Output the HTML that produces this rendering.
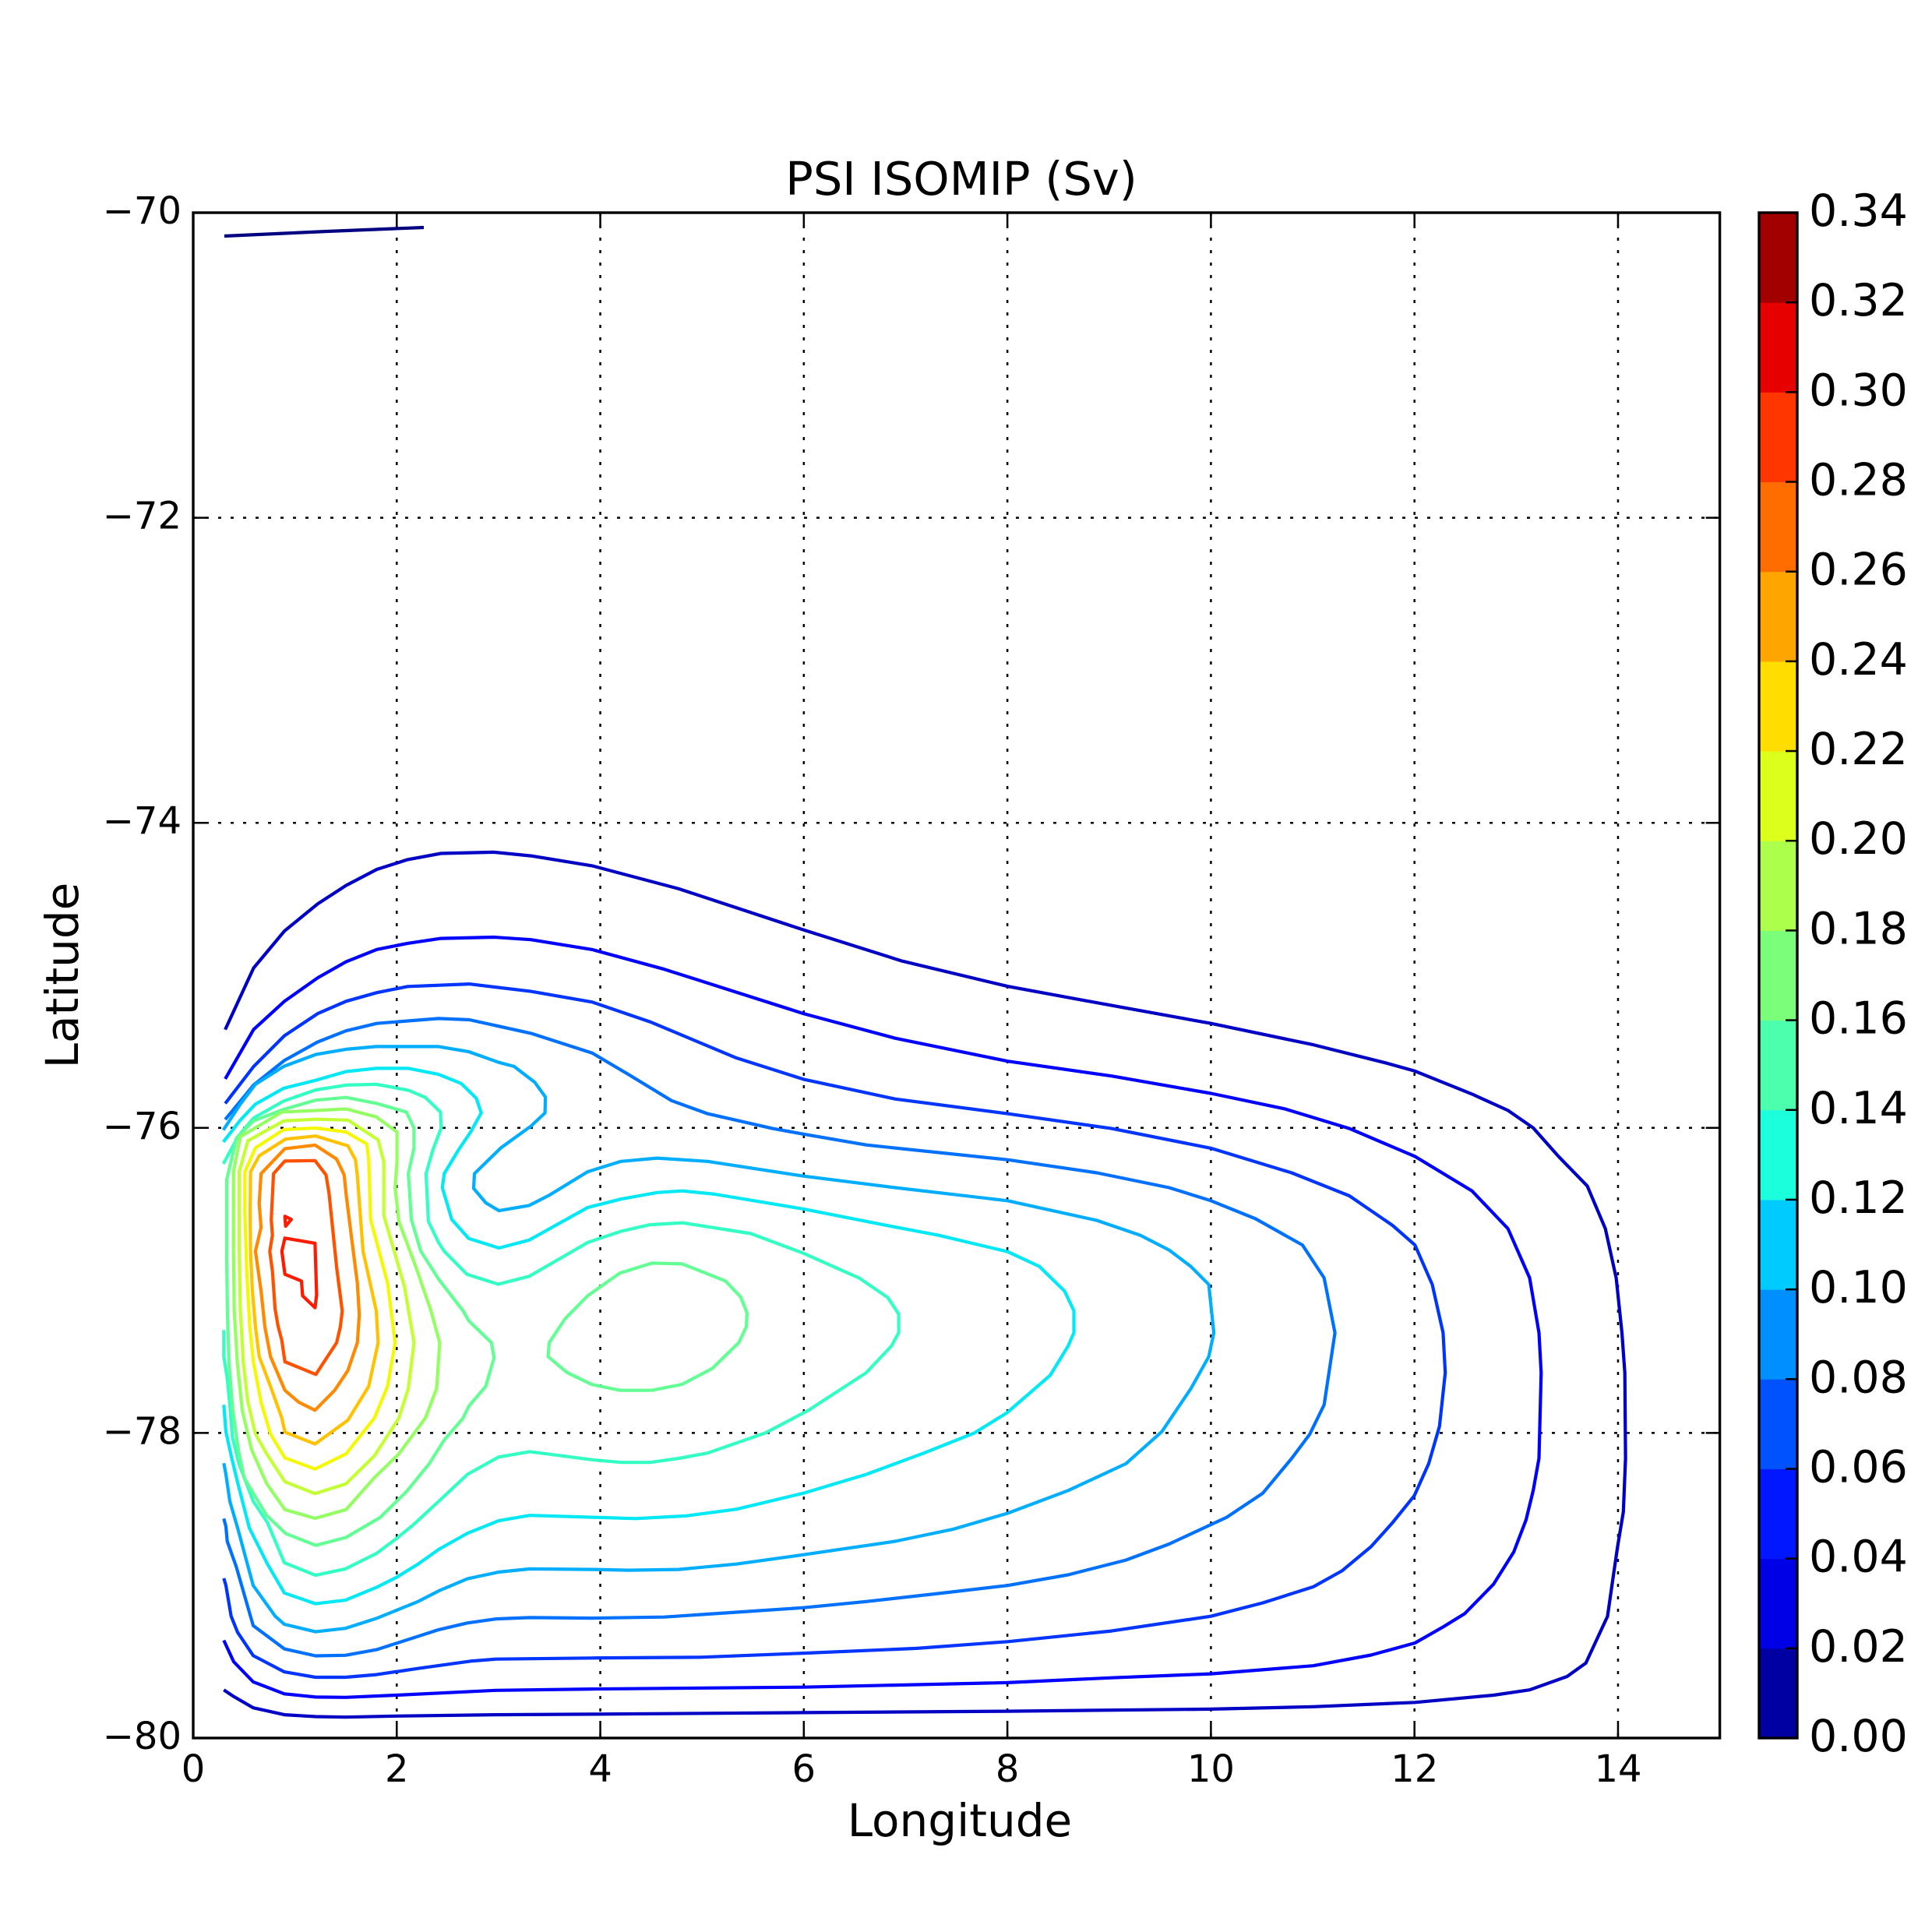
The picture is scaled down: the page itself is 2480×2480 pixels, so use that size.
<!DOCTYPE html>
<html><head><meta charset="utf-8">
<style>
html,body{margin:0;padding:0;background:#fff;}
svg{display:block;}
text{font-family:"DejaVu Sans","Liberation Sans",sans-serif;fill:#000;}
</style></head>
<body>
<svg id="s" width="2480" height="2480" viewBox="0 0 2480 2480" xmlns="http://www.w3.org/2000/svg">
<rect width="2480" height="2480" fill="#fff"/>
<g id="grid" stroke="#000" stroke-width="2.5" stroke-dasharray="4 12" fill="none"></g>
<g id="cont" fill="none" stroke-width="4.2" stroke-linejoin="round" stroke-linecap="butt"></g>
<g id="ticks" stroke="#000" stroke-width="2.5"></g>
<rect x="248" y="273" width="1959.6" height="1958" fill="none" stroke="#000" stroke-width="3.4"/>
<g id="cbar"></g>
<g font-size="48" text-anchor="middle">
<text x="248" y="2287">0</text>
<text x="509.3" y="2287">2</text>
<text x="770.6" y="2287">4</text>
<text x="1031.8" y="2287">6</text>
<text x="1293.1" y="2287">8</text>
<text x="1554.4" y="2287">10</text>
<text x="1815.7" y="2287">12</text>
<text x="2077" y="2287">14</text>
</g>
<g font-size="48" text-anchor="end">
<text x="233" y="287">−70</text>
<text x="233" y="678.6">−72</text>
<text x="233" y="1070.2">−74</text>
<text x="233" y="1461.8">−76</text>
<text x="233" y="1853.4">−78</text>
<text x="233" y="2245">−80</text>
</g>
<g font-size="57" text-anchor="start" id="cblab"></g>
<text x="1234" y="250" font-size="59" text-anchor="middle">PSI ISOMIP (Sv)</text>
<text x="1232" y="2357" font-size="58" text-anchor="middle">Longitude</text>
<text x="100" y="1252" font-size="58" text-anchor="middle" transform="rotate(-90 100 1252)">Latitude</text>
</svg>
<script>
(function(){
var NS="http://www.w3.org/2000/svg";
function el(tag,attrs,parent){var e=document.createElementNS(NS,tag);for(var k in attrs)e.setAttribute(k,attrs[k]);parent.appendChild(e);return e;}
function X(v){return 248+130.64*v;}
function Y(v){return 273+(-70-v)*195.8;}
var g=document.getElementById('grid');
for(var v=2;v<=14;v+=2) el('line',{x1:X(v),y1:273,x2:X(v),y2:2231},g);
for(var v=-72;v>=-78;v-=2) el('line',{x1:248,y1:Y(v),x2:2207.6,y2:Y(v)},g);
var t=document.getElementById('ticks');
for(var v=0;v<=14;v+=2){el('line',{x1:X(v),y1:2231,x2:X(v),y2:2213},t);el('line',{x1:X(v),y1:273,x2:X(v),y2:291},t);}
for(var v=-70;v>=-80;v-=2){el('line',{x1:248,y1:Y(v),x2:266,y2:Y(v)},t);el('line',{x1:2207.6,y1:Y(v),x2:2189.6,y2:Y(v)},t);}
function interp(pts,x){for(var i=1;i<pts.length;i++){if(x<=pts[i][0]){var a=pts[i-1],b=pts[i];return a[1]+(b[1]-a[1])*(x-a[0])/(b[0]-a[0]);}}return pts[pts.length-1][1];}
function jet(x){var r=interp([[0,0],[0.35,0],[0.66,1],[0.89,1],[1,0.5]],x),gg=interp([[0,0],[0.125,0],[0.375,1],[0.64,1],[0.91,0],[1,0]],x),b=interp([[0,0.5],[0.11,1],[0.34,1],[0.65,0],[1,0]],x);
function h(c){c=Math.round(Math.max(0,Math.min(1,c))*255);return (c<16?'0':'')+c.toString(16);}return '#'+h(r)+h(gg)+h(b);}
var cb=document.getElementById('cbar'),cl=document.getElementById('cblab');
var top=273,bot=2231,bh=(bot-top)/17;
for(var k=0;k<17;k++){el('rect',{x:2258,y:bot-(k+1)*bh,width:49,height:bh+0.5,fill:jet((k+0.5)/17)},cb);}
for(var k=1;k<17;k++){var yy=bot-k*bh;el('line',{x1:2292,y1:yy,x2:2307,y2:yy,stroke:'#000','stroke-width':2.5},cb);}
el('rect',{x:2258,y:273,width:49,height:1958,fill:'none',stroke:'#000','stroke-width':3.4},cb);
for(var k=0;k<=17;k++){var tx=el('text',{x:2322,y:bot-k*bh+17},cl);tx.textContent=(k*0.02).toFixed(2);}
function A(x,y){return [260+0.4847*x,1300+0.5102*y];}
function B(x,y){return [270+x/3,1839.4+(y-405)*0.3435];}
function C(x,y){return [770.4+(x-11)*0.9256,1839.4+(y-405)*0.3435];}
function E(x,y){return [770.4+(x-11)*0.9256,1056.2+(y-14)*0.4215];}
function D(x,y){return [1.582*x+1.2,1.5816*y+1];}
var F={A:A,B:B,C:C,E:E,D:D};
function seq(f,arr){var o=[];for(var i=0;i<arr.length;i+=2)o.push(F[f](arr[i],arr[i+1]));return o;}
var cont=document.getElementById('cont');
function draw(level,segs,close){var pts=[];segs.forEach(function(s){pts=pts.concat(s);});
var d='M'+pts.map(function(p){return p[0].toFixed(1)+' '+p[1].toFixed(1);}).join(' L');if(close)d+=' Z';
el('path',{d:d,stroke:jet(level/0.34)},cont);}
draw(0,[[[288,303],[420,297],[544,292]]]);
draw(0.02,[seq('D',[182,835,205,785,230,755,257,733,280,718,305,705,330,697,357,692,400,691,430,694]),
seq('E',[0,145,120,215,293,340,430,435,576,512,720,570,858,625,1000,690,1100,745,1141,770,1220,840,1270,890,1305,943,1340,1030,1380,1120,1405,1250,1420,1400,1428,1567]),
seq('C',[1432,180,1433,500,1430,700,1422,830,1415,960,1408,1090,1390,1195,1378,1265,1352,1315,1300,1365,1250,1385,1141,1412,1000,1428,858,1437,576,1445,293,1450,0,1456]),
seq('B',[1100,1458,716,1463,520,1467,405,1465,285,1458,165,1432,90,1390,52,1365])]);
draw(0.04,[seq('D',[182,875,205,835,230,812,257,793,280,780,305,770,330,765,357,761,400,760,430,762]),
seq('E',[0,400,100,460,293,595,420,670,576,740,720,785,858,838,960,885,1050,945,1141,1030,1220,1135,1270,1250,1300,1400,1313,1567]),
seq('C',[1316,180,1313,500,1305,620,1295,730,1278,850,1250,970,1210,1080,1180,1130,1141,1190,1080,1235,1000,1275,858,1305,720,1320,576,1338,293,1355,0,1362]),
seq('B',[1100,1367,716,1385,520,1393,405,1392,285,1380,165,1335,90,1260,52,1180])]);
draw(0.06,[seq('D',[182,895,205,865,230,840,257,822,280,812,305,805,330,800,380,798,430,804]),
seq('E',[0,560,80,620,200,730,293,795,420,855,576,900,720,945,858,1005,970,1080,1050,1150,1110,1240,1141,1300,1165,1420,1180,1567]),
seq('C',[1183,180,1175,380,1160,520,1140,640,1110,740,1080,830,1040,920,1000,980,930,1040,858,1090,720,1145,576,1185,450,1210,293,1228,150,1243,0,1246]),
seq('B',[1100,1250,1000,1258,800,1285,640,1308,520,1318,405,1318,285,1298,165,1237,105,1150,80,1090,60,975,52,948])]);
draw(0.08,[seq('D',[182,908,205,880,230,860,257,845,280,836,305,830,355,826,380,827,430,838]),
seq('E',[0,715,50,780,110,860,160,900,250,945,293,962,380,995,576,1040,700,1080,800,1125,858,1165,920,1220,985,1300,1015,1400,1030,1567]),
seq('C',[1025,120,1015,300,995,410,970,500,930,630,880,720,800,820,740,880,660,935,576,975,480,1005,380,1035,293,1058,200,1075,100,1093,0,1097]),
seq('B',[1230,1095,1100,1100,990,1115,880,1140,640,1215,520,1236,405,1238,285,1212,165,1125,100,905,65,810,60,755,52,725])]);
draw(0.10,[seq('A',[55,295,100,230,140,180,215,135,300,105,380,92,460,85,625,85,705,98,785,125,825,135,880,175,908,212,907,252,870,285,790,340,720,405,718,442,750,478,785,498,865,485,920,458,1020,400]),
seq('E',[40,1045,90,1035,160,1045,293,1090,420,1125,576,1165,700,1225,760,1270,800,1315,830,1365,855,1420,862,1567]),
seq('C',[855,120,830,240,790,400,740,520,660,620,576,705,500,765,420,810,293,860,200,895,120,915,50,918,0,915]),
seq('B',[1230,913,1110,925,990,950,880,995,800,1035,640,1098,520,1135,405,1148,285,1120,250,1090,165,975,105,760,75,660,60,560,52,518])]);
draw(0.12,[seq('A',[55,325,100,270,140,230,215,190,300,170,380,148,460,140,545,140,625,155,685,178,725,215,738,252,710,300,678,345,640,405,635,440,660,520,705,568,785,592,865,572,1020,490]),
seq('E',[40,1160,90,1140,125,1135,170,1145,293,1190,420,1245,480,1270,576,1320,620,1365,655,1440,668,1500,668,1567]),
seq('C',[660,80,635,190,575,330,530,405,460,480,380,560,293,630,200,690,130,715,60,725,0,720]),
seq('B',[1230,713,1110,733,990,780,880,840,800,895,716,945,640,982,520,1030,405,1043,285,1003,220,895,150,760,105,590,80,490,60,400,52,300])]);
draw(0.14,[seq('A',[55,380,95,310,135,265,215,222,300,194,380,182,460,180,545,195,590,213,630,250,632,290,610,345,592,405,598,525,625,578,640,600,700,658,783,683,865,663,1020,578]),
seq('E',[40,1258,80,1238,125,1232,220,1265,293,1325,370,1400,410,1460,425,1510,425,1567]),
seq('C',[415,80,380,180,300,320,240,405,160,480,120,500,80,515,40,515,0,505]),
seq('B',[1230,475,1110,495,990,560,880,660,785,745,716,800,640,855,520,913,405,937,285,890,220,740,165,660,110,520,85,420,75,300,65,200,52,120,52,20])]);
draw(0.16,[seq('A',[64,420,90,315,135,272,215,243,300,220,380,213,460,228,540,250,560,290,560,340,545,405,548,445,553,520,578,600,625,670,690,750,705,775,765,830,772,868,750,940,705,990,690,1020,640,1075,600,1135,540,1205,470,1270,380,1320,300,1340,220,1310,170,1265,135,1210,110,1170,95,1100,80,1000,70,880,66,760,64,620])],true);
draw(0.16,[seq('A',[915,865,918,830,960,770,1020,712,1105,655,1190,630,1270,632,1340,658,1385,675,1425,715,1442,755,1440,790,1420,830,1350,895,1270,935,1190,950,1105,950,1030,935,965,905])],true);
draw(0.18,[seq('A',[82,400,100,312,210,250,300,246,380,242,460,262,515,300,515,375,510,440,520,525,565,640,605,750,628,830,620,945,590,1020,520,1110,455,1170,380,1250,298,1272,218,1250,170,1185,130,1100,105,1000,92,880,84,750,82,600])],true);
draw(0.20,[seq('A',[97,400,120,322,215,272,300,268,385,270,465,320,480,375,480,510,535,690,560,830,545,945,520,1020,455,1115,380,1185,298,1210,218,1180,170,1110,140,1060,120,980,108,880,100,750,97,600])],true);
draw(0.22,[seq('A',[112,400,140,340,215,294,300,290,380,300,435,330,440,370,445,520,490,680,510,830,490,940,455,1020,380,1110,298,1148,218,1120,180,1060,155,980,135,880,125,790,117,650,112,500])],true);
draw(0.24,[seq('A',[127,400,150,360,220,318,300,310,385,335,405,370,410,410,425,600,460,750,465,830,440,940,385,1025,298,1085,218,1055,210,1020,180,940,150,865,140,790,132,700,127,600,126,500])],true);
draw(0.26,[seq('A',[155,405,218,342,298,333,355,368,375,408,380,455,395,570,410,680,415,760,410,830,385,900,350,950,298,1000,255,980,218,950,180,865,165,790,155,700,140,600,155,540,150,480])],true);
draw(0.28,[seq('A',[218,373,298,372,327,408,335,455,355,640,370,750,365,790,355,830,300,910,218,878,210,825,200,788,192,745,185,650,178,600,185,560,182,520,188,405])],true);
draw(0.30,[seq('A',[218,567,298,580,302,710,298,742,265,712,262,675,218,658,210,600])],true);
draw(0.30,[seq('A',[218,512,235,520,220,537])],true);
})();
</script>
</body></html>
